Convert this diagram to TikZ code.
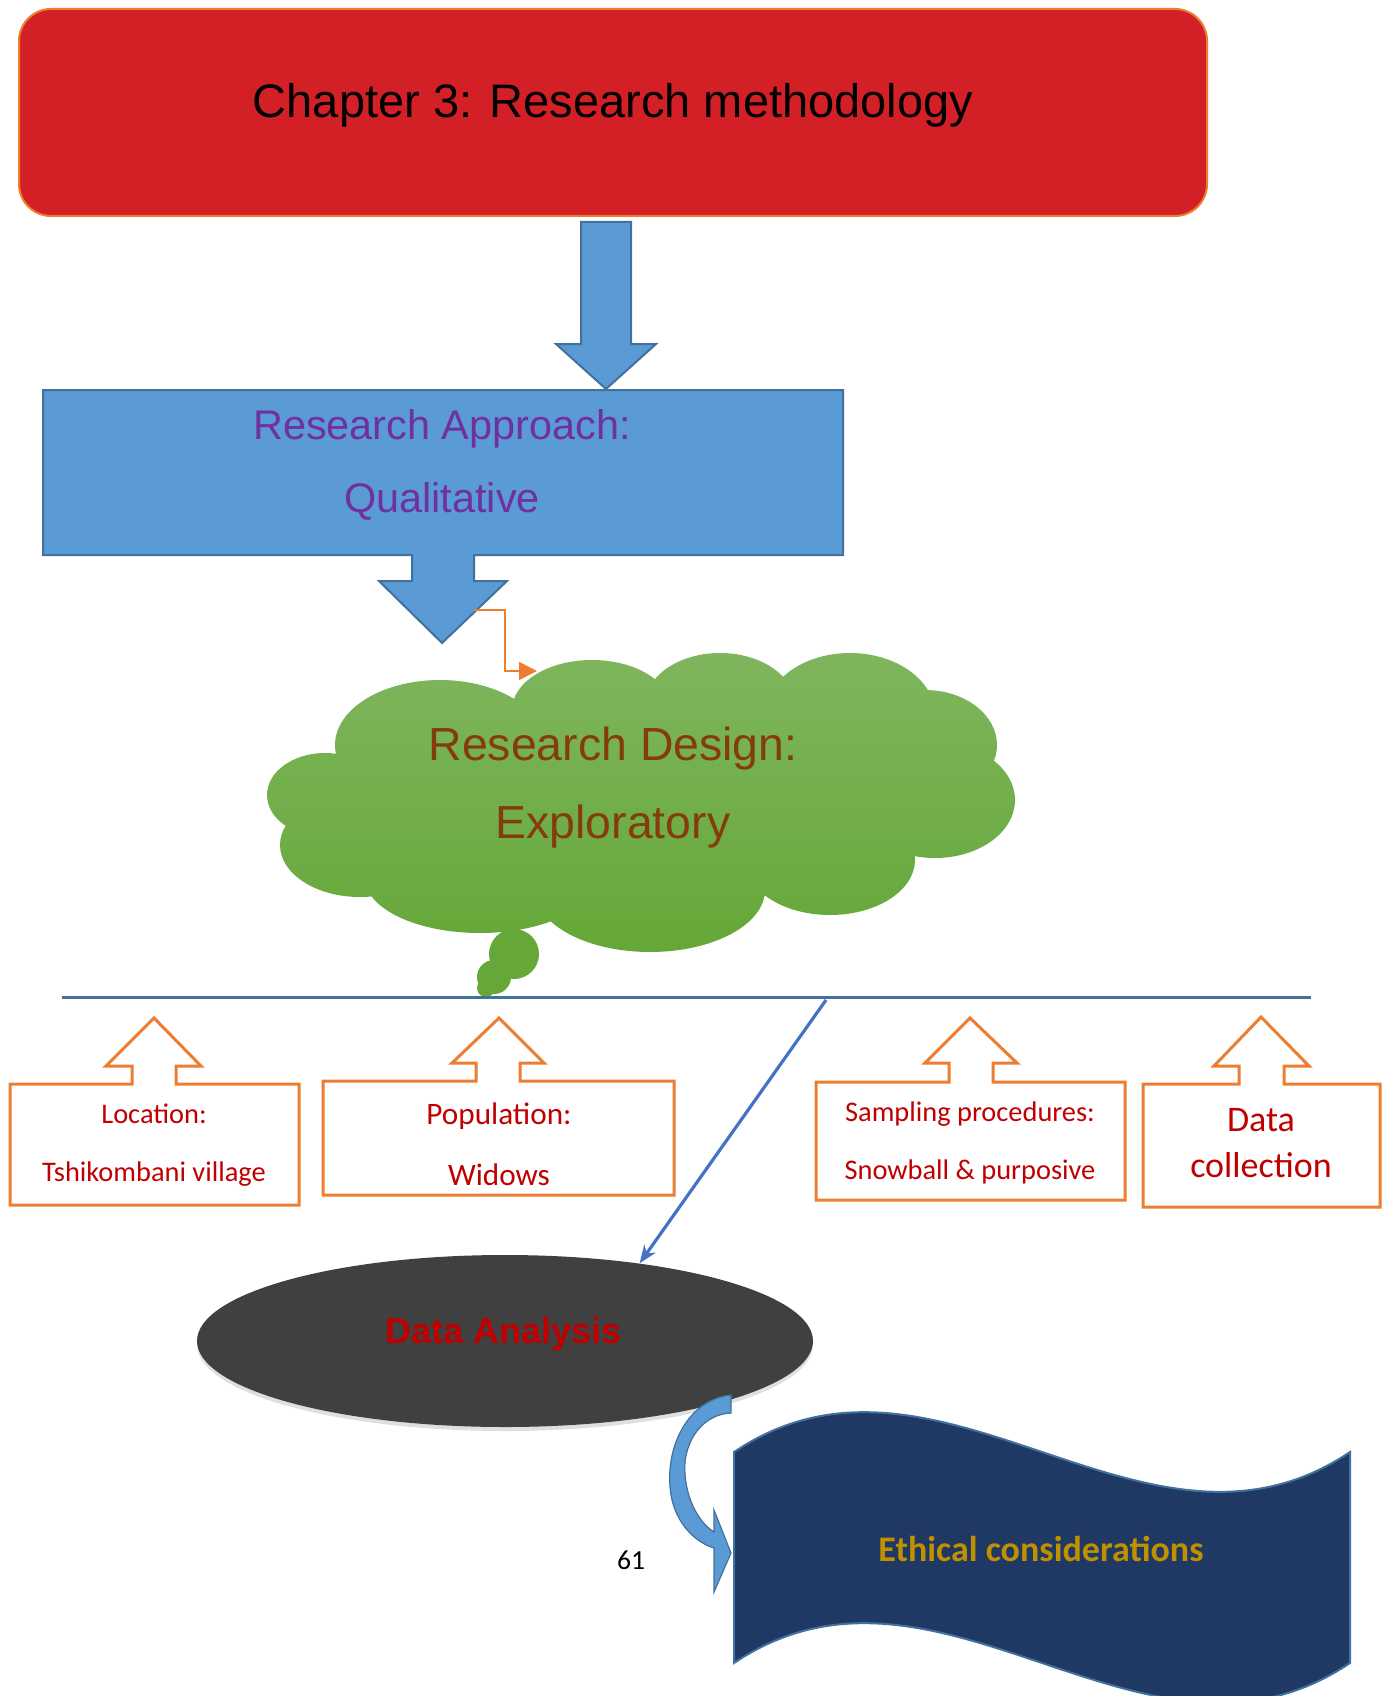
\documentclass[tikz,border=0pt]{standalone}
\usepackage{fontspec}
\setmainfont{Liberation Sans}
\newfontfamily\calibri{Carlito}
\usetikzlibrary{arrows.meta,shapes.geometric,shadows,positioning,calc}
\definecolor{titlered}{RGB}{211,32,39}
\definecolor{orangeline}{RGB}{237,125,49}
\definecolor{approachblue}{RGB}{91,155,213}
\definecolor{blueborder}{RGB}{65,113,156}
\definecolor{approachpurple}{RGB}{112,48,160}
\definecolor{cloudtop}{RGB}{127,182,93}
\definecolor{cloudbottom}{RGB}{101,167,56}
\definecolor{designbrown}{RGB}{132,60,12}
\definecolor{splitblue}{RGB}{68,114,196}
\definecolor{boxred}{RGB}{192,0,0}
\definecolor{analysisgray}{RGB}{64,64,64}
\definecolor{ethicsnavy}{RGB}{31,56,100}
\definecolor{ethicsgold}{RGB}{191,144,0}

\begin{document}
\begin{tikzpicture}[
    x=0.5pt, y=-0.5pt,
    titlebox/.style={rectangle, draw=orangeline, line width=1pt, fill=titlered, rounded corners=16pt, minimum width=594pt, minimum height=103.5pt},
    bigtext/.style={inner sep=0pt, align=center},
    blockarrow/.style={fill=approachblue, draw=blueborder, line width=1pt, line join=miter},
    calloutbox/.style={draw=orangeline, line width=1.5pt, fill=white, line join=miter},
    boxtext/.style={inner sep=0pt, align=center, text=boxred},
    connector/.style={-{Triangle[length=9pt,width=9pt]}, draw=orangeline, line width=0.8pt},
    splitarrow/.style={-{Stealth[length=9pt,width=7pt]}, draw=splitblue, line width=1.6pt},
    analysisshape/.style={ellipse, fill=analysisgray, minimum width=308pt, minimum height=86pt, drop shadow={shadow xshift=0pt, shadow yshift=-2pt, opacity=0.25}}
]
\useasboundingbox (0,0) rectangle (1389,1696);

% Title
\node[titlebox] (title) at (613,112.5) {};
\node[bigtext, font=\fontsize{23.5}{28}\selectfont] (titletext) at (613,105) {Chapter 3: Research methodology};

% Arrow down to the approach
\path[blockarrow] (581,222) -- (631,222) -- (631,344) -- (656,344) -- (606,389) -- (556,344) -- (581,344) -- cycle;

% Approach box with its arrow
\path[blockarrow] (43,390) -- (843,390) -- (843,555) -- (474,555) -- (474,581) -- (507,581) -- (442,643) -- (379,581) -- (412,581) -- (412,555) -- (43,555) -- cycle;
\node[bigtext, text=approachpurple, font=\fontsize{20.7}{36.5}\selectfont] (approach) at (442,465) {Research Approach:\\Qualitative};

% Design cloud
\shade[top color=cloudtop, bottom color=cloudbottom]
  (440,745) ellipse [x radius=105, y radius=65]
  (592,710) ellipse [x radius=80, y radius=50]
  (720,705) ellipse [x radius=75, y radius=52]
  (850,715) ellipse [x radius=85, y radius=62]
  (925,745) ellipse [x radius=72, y radius=55]
  (935,800) ellipse [x radius=80, y radius=58]
  (830,860) ellipse [x radius=85, y radius=55]
  (650,890) ellipse [x radius=115, y radius=62]
  (480,878) ellipse [x radius=115, y radius=55]
  (360,845) ellipse [x radius=80, y radius=52]
  (325,795) ellipse [x radius=58, y radius=42]
  (640,800) ellipse [x radius=300, y radius=100];
\fill[cloudbottom] (514,954) circle [radius=25] (494,977) circle [radius=17] (486,988) circle [radius=9];
\node[bigtext, text=designbrown, font=\fontsize{23.2}{39}\selectfont] (design) at (613,787) {Research Design:\\Exploratory};

% Elbow connector
\coordinate (elbowstart) at (474,610);
\coordinate (cloudin) at (537,671);
\draw[connector] (elbowstart) -| ($(cloudin)+(-32,0)$) -- (cloudin);

% Split line
\coordinate (lineL) at (62,997);
\coordinate (lineR) at (1311,997);
\draw[draw=blueborder, line width=1.5pt] (lineL) -- (lineR);

% Boxes under the line
\path[calloutbox] (132,1084) -- (10,1084) -- (10,1205) -- (299,1205) -- (299,1084) -- (176,1084) -- (176,1066) -- (201,1066) -- (154,1018) -- (106,1066) -- (132,1066) -- cycle;
\node[boxtext, font=\calibri\fontsize{14.2}{29}\selectfont] (location) at (154,1145) {Location:\\Tshikombani village};

\path[calloutbox] (476,1081) -- (323,1081) -- (323,1195) -- (674,1195) -- (674,1081) -- (520,1081) -- (520,1063) -- (544,1063) -- (499,1018) -- (452,1063) -- (476,1063) -- cycle;
\node[boxtext, font=\calibri\fontsize{15.6}{30.5}\selectfont] (population) at (499,1144.5) {Population:\\Widows};

\path[calloutbox] (949,1082) -- (816,1082) -- (816,1200) -- (1125,1200) -- (1125,1082) -- (993,1082) -- (993,1063) -- (1017,1063) -- (970,1018) -- (925,1063) -- (949,1063) -- cycle;
\node[boxtext, font=\calibri\fontsize{14.2}{29}\selectfont] (sampling) at (970,1143) {Sampling procedures:\\Snowball \& purposive};

\path[calloutbox] (1239,1084) -- (1143,1084) -- (1143,1207) -- (1380,1207) -- (1380,1084) -- (1284,1084) -- (1284,1066) -- (1309,1066) -- (1261,1017) -- (1214,1066) -- (1239,1066) -- cycle;
\node[boxtext, font=\calibri\fontsize{18}{23}\selectfont] (collection) at (1261,1143) {Data\\collection};

% Data analysis
\node[analysisshape] (analysis) at (505,1341) {};
\node[bigtext, text=boxred, font=\bfseries\fontsize{18}{22}\selectfont] (analysistext) at (504,1334) {Data Analysis};
\coordinate (splitpt) at (826,1000);
\draw[splitarrow] (splitpt) -- (analysis.30);

% Ethics banner
\path[fill=ethicsnavy, draw=blueborder, line width=1pt] (734,1452) .. controls (939,1314) and (1145,1590) .. (1350,1452) -- (1350,1663) .. controls (1145,1801) and (939,1525) .. (734,1663) -- cycle;
\node[bigtext, text=ethicsgold, font=\calibri\bfseries\fontsize{18}{22}\selectfont] (ethics) at (1041,1549) {Ethical considerations};

% Curved arrow
\path[blockarrow, line width=0.6pt] (731,1395) .. controls (684,1400) and (662,1455) .. (672,1500) .. controls (679,1528) and (698,1543) .. (714,1548) -- (714,1592) -- (731,1553) -- (714,1510) -- (714,1532) .. controls (698,1522) and (683,1495) .. (685,1462) .. controls (688,1435) and (706,1414) .. (731,1413) -- cycle;

% Page number
\node[bigtext, font=\calibri\fontsize{13.8}{16}\selectfont] (pagenum) at (631,1560) {61};
\end{tikzpicture}
\end{document}
